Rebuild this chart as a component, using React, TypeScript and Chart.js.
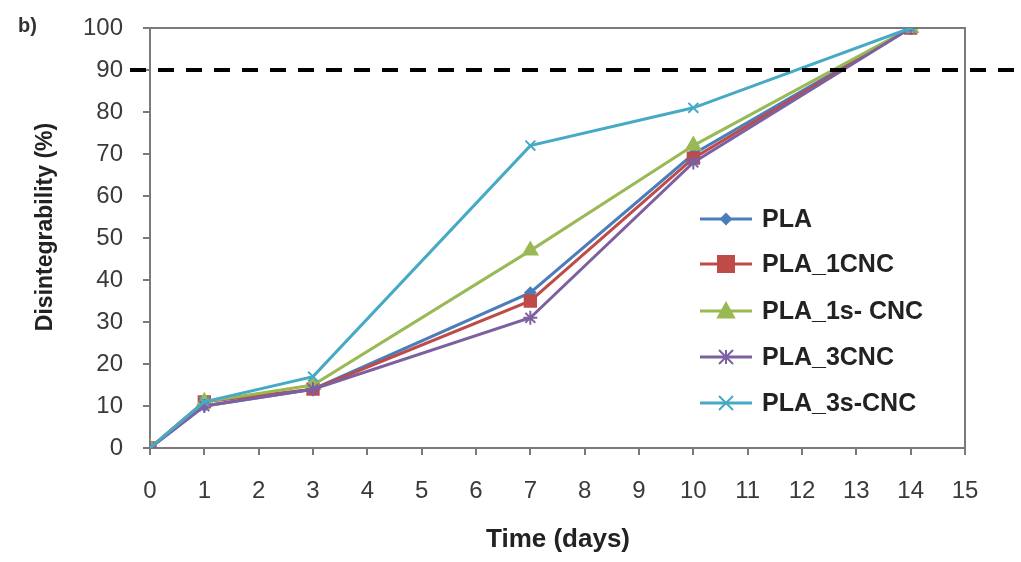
import React, { useEffect, useRef } from "react";
import { Chart, registerables } from "chart.js";

Chart.register(...registerables);

const days = [0, 1, 3, 7, 10, 14];
const seriesNames = ["PLA", "PLA_1CNC", "PLA_1s- CNC", "PLA_3CNC", "PLA_3s-CNC"];
const pla = [0, 10, 14, 37, 70, 100];
const pla1cnc = [0, 11, 14, 35, 69, 100];
const pla1scnc = [0, 11, 15, 47, 72, 100];
const pla3cnc = [0, 10, 14, 31, 68, 100];
const pla3scnc = [0, 11, 17, 72, 81, 100];
const thresholdValue = 90;
const xTicks = [0, 1, 2, 3, 4, 5, 6, 7, 8, 9, 10, 11, 12, 13, 14, 15];
const yTicks = [0, 10, 20, 30, 40, 50, 60, 70, 80, 90, 100];

const colors = ["#4a7ebb", "#be4b48", "#98b954", "#7d60a0", "#46aac5"];
const styles = ["rectRot", "rect", "triangle", "star", "crossRot"];
const radii = [5, 8, 8, 7, 7];

const FONT = "Arial, 'Liberation Sans', sans-serif";

function drawMarker(ctx: CanvasRenderingContext2D, style: string, r: number, x: number, y: number) {
  ctx.beginPath();
  if (style === "rect") {
    ctx.rect(x - r, y - r, 2 * r, 2 * r);
    ctx.fill();
    ctx.stroke();
  } else if (style === "rectRot") {
    ctx.moveTo(x, y - r);
    ctx.lineTo(x + r, y);
    ctx.lineTo(x, y + r);
    ctx.lineTo(x - r, y);
    ctx.closePath();
    ctx.fill();
    ctx.stroke();
  } else if (style === "triangle") {
    ctx.moveTo(x, y - r);
    ctx.lineTo(x + r, y + r * 0.8);
    ctx.lineTo(x - r, y + r * 0.8);
    ctx.closePath();
    ctx.fill();
    ctx.stroke();
  } else if (style === "star") {
    ctx.moveTo(x - r, y - r);
    ctx.lineTo(x + r, y + r);
    ctx.moveTo(x + r, y - r);
    ctx.lineTo(x - r, y + r);
    ctx.moveTo(x, y - r);
    ctx.lineTo(x, y + r);
    ctx.stroke();
  } else {
    ctx.moveTo(x - r, y - r);
    ctx.lineTo(x + r, y + r);
    ctx.moveTo(x + r, y - r);
    ctx.lineTo(x - r, y + r);
    ctx.stroke();
  }
}

const overlayPlugin = {
  id: "overlay",
  beforeDatasetsDraw(chart: any) {
    const { ctx, chartArea } = chart;
    ctx.save();
    ctx.strokeStyle = "#7a7a7a";
    ctx.lineWidth = 2;
    ctx.beginPath();
    ctx.moveTo(chartArea.left - 6, chartArea.top);
    ctx.lineTo(chartArea.right, chartArea.top);
    ctx.lineTo(chartArea.right, chartArea.bottom);
    ctx.stroke();
    ctx.restore();
  },
  afterDraw(chart: any) {
    const { ctx, chartArea, scales } = chart;
    ctx.save();
    const y90 = scales.y.getPixelForValue(thresholdValue);
    ctx.strokeStyle = "#000";
    ctx.lineWidth = 4;
    ctx.setLineDash([16, 12]);
    ctx.beginPath();
    ctx.moveTo(chartArea.left - 20, y90);
    ctx.lineTo(chart.width, y90);
    ctx.stroke();
    ctx.setLineDash([]);

    ctx.fillStyle = "#222";
    ctx.font = `bold 26px ${FONT}`;
    ctx.textAlign = "center";
    ctx.textBaseline = "middle";
    ctx.fillText("Time (days)", 558, 540);
    ctx.save();
    ctx.font = `bold 23px ${FONT}`;
    ctx.translate(46, 227);
    ctx.rotate(-Math.PI / 2);
    ctx.fillText("Disintegrability (%)", 0, 0);
    ctx.restore();

    ctx.font = `bold 20px ${FONT}`;
    ctx.fillStyle = "#333";
    ctx.textAlign = "left";
    ctx.fillText("b)", 18, 26);

    const lx0 = 700;
    const lx1 = 752;
    const ys = [219, 264, 311, 357, 403];
    chart.data.datasets.forEach((ds: any, i: number) => {
      const y = ys[i];
      ctx.strokeStyle = ds.borderColor;
      ctx.lineWidth = 3;
      ctx.beginPath();
      ctx.moveTo(lx0, y);
      ctx.lineTo(lx1, y);
      ctx.stroke();
      ctx.fillStyle = ds.pointBackgroundColor;
      ctx.strokeStyle = ds.pointBorderColor;
      ctx.lineWidth = 2;
      drawMarker(ctx, ds.pointStyle, ds.pointRadius, (lx0 + lx1) / 2, y);
      ctx.fillStyle = "#222";
      ctx.font = `bold 25px ${FONT}`;
      ctx.textAlign = "left";
      ctx.textBaseline = "middle";
      ctx.fillText(ds.label, 762, y + 1);
    });
    ctx.restore();
  },
};

export default function App() {
  const ref = useRef<HTMLCanvasElement>(null);
  useEffect(() => {
    const values = [pla, pla1cnc, pla1scnc, pla3cnc, pla3scnc];
    const chart = new Chart(ref.current as HTMLCanvasElement, {
      type: "line",
      data: {
        datasets: values.map((vals, i) => ({
          label: seriesNames[i],
          data: days.map((d, j) => ({ x: d, y: vals[j] })),
          borderColor: colors[i],
          backgroundColor: colors[i],
          pointBackgroundColor: colors[i],
          pointBorderColor: colors[i],
          pointStyle: styles[i],
          pointRadius: radii[i],
          pointBorderWidth: 2,
          borderWidth: 3,
          tension: 0,
          order: 5 - i,
        })),
      },
      options: {
        animation: false,
        responsive: false,
        maintainAspectRatio: false,
        layout: { padding: { left: 0, right: 56, top: 28, bottom: 0 } },
        plugins: { legend: { display: false }, tooltip: { enabled: false } },
        scales: {
          x: {
            type: "linear",
            min: 0,
            max: 15,
            afterBuildTicks: (s: any) => {
              s.ticks = xTicks.map((v) => ({ value: v }));
            },
            afterFit: (s: any) => {
              s.height = 114;
              s.paddingLeft = 0;
              s.paddingRight = 0;
            },
            grid: {
              drawOnChartArea: false,
              drawTicks: true,
              tickLength: 7,
              color: "#7a7a7a",
              lineWidth: 2,
            },
            border: { display: true, color: "#7a7a7a", width: 2 },
            ticks: {
              color: "#3a3a3a",
              font: { family: FONT, size: 24 },
              padding: 22,
              maxRotation: 0,
              autoSkip: false,
            },
          },
          y: {
            type: "linear",
            min: 0,
            max: 100,
            afterBuildTicks: (s: any) => {
              s.ticks = yTicks.map((v) => ({ value: v }));
            },
            afterFit: (s: any) => {
              s.width = 150;
              s.paddingTop = 0;
              s.paddingBottom = 0;
            },
            grid: {
              drawOnChartArea: false,
              drawTicks: true,
              tickLength: 7,
              color: "#7a7a7a",
              lineWidth: 2,
            },
            border: { display: true, color: "#7a7a7a", width: 2 },
            ticks: {
              color: "#3a3a3a",
              font: { family: FONT, size: 24 },
              padding: 20,
              autoSkip: false,
            },
          },
        },
      },
      plugins: [overlayPlugin],
    } as any);
    return () => chart.destroy();
  }, []);
  return (
    <div style={{ position: "fixed", left: 0, top: 0, width: 1021, height: 562, background: "#fff" }}>
      <canvas ref={ref} width={1021} height={562} style={{ width: 1021, height: 562, display: "block" }} />
    </div>
  );
}
